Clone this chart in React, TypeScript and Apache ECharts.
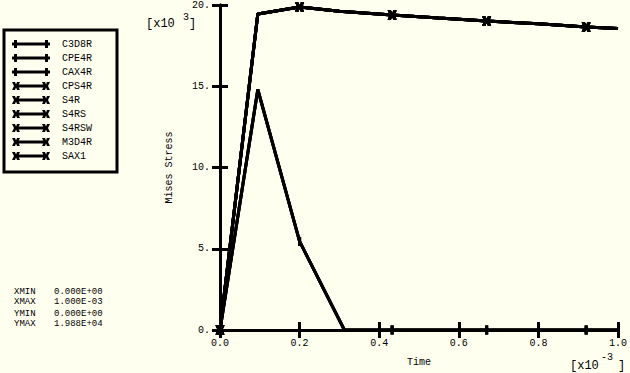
import React, { useEffect, useRef } from "react";
import * as echarts from "echarts";

// Curve set A (C3D8R, CPE4R, CAX4R) — time [x1e-3], Mises stress [x1e3]
const timeA = [0, 0.095, 0.2, 0.3125, 0.4325, 0.67, 0.92, 1.0];
const stressA = [0, 14.8, 5.45, 0, 0, 0, 0, 0];
const markA = [true, false, true, false, true, true, true, false];

// Curve set B (CPS4R, S4R, S4RS, S4RSW, M3D4R, SAX1)
const timeB = [0, 0.095, 0.2, 0.3, 0.4325, 0.55, 0.67, 0.8, 0.92, 1.0];
const stressB = [0, 19.45, 19.88, 19.62, 19.38, 19.2, 19.02, 18.84, 18.65, 18.56];
const markB = [true, false, true, false, true, false, true, false, true, false];

const namesA = ["C3D8R", "CPE4R", "CAX4R"];
const namesB = ["CPS4R", "S4R", "S4RS", "S4RSW", "M3D4R", "SAX1"];

const xMin = 0;
const xMax = 1.0;
const xStep = 0.2;
const yMin = 0;
const yMax = 20;
const yStep = 5;

const infoLabels = ["XMIN", "XMAX", "YMIN", "YMAX"];
const infoValues = ["0.000E+00", "1.000E-03", "0.000E+00", "1.988E+04"];
const infoRowsY = [291.5, 302, 313.5, 323.5];

const MONO = '"Liberation Mono", "DejaVu Sans Mono", monospace';
const BG = "#ffffef";

const SYM_PLUS = "rect";
const SYM_X = "path://M0,0H3L4,2.5L5,0H8L6,4L8,8H5L4,5.5L3,8H0L2,4Z";
const ICON_A =
  "path://M0,2.5H2V0H5V2.5H33V0H36V2.5H38V5.5H36V8H33V5.5H5V8H2V5.5H0Z";
const ICON_B =
  "path://M0,0H3L4,2.5L5,0H8L6,4L8,8H5L4,5.5L3,8H0L2,4Z M4,2.5H34V5.5H4Z M30,0H33L34,2.5L35,0H38L36,4L38,8H35L34,5.5L33,8H30L32,4Z";

function buildData(t: number[], v: number[], m: boolean[]) {
  return t.map((x, i) =>
    m[i] ? { value: [x, v[i]] } : { value: [x, v[i]], symbol: "none" }
  );
}

export default function App() {
  const ref = useRef<HTMLDivElement>(null);
  useEffect(() => {
    if (!ref.current) return;
    const chart = echarts.init(ref.current, undefined, { renderer: "svg" });

    const seriesA = namesA.map((n) => ({
      name: n,
      type: "line",
      data: buildData(timeA, stressA, markA),
      symbol: SYM_PLUS,
      symbolSize: [3, 9],
      showSymbol: true,
      showAllSymbol: true,
      clip: false,
      color: "#000",
      lineStyle: { color: "#000", width: 3 },
      itemStyle: { color: "#000" },
      emphasis: { disabled: true },
      xAxisIndex: 0,
      yAxisIndex: 0,
    }));
    const seriesB = namesB.map((n) => ({
      name: n,
      type: "line",
      data: buildData(timeB, stressB, markB),
      symbol: SYM_X,
      symbolSize: [9, 9],
      showSymbol: true,
      showAllSymbol: true,
      clip: false,
      color: "#000",
      lineStyle: { color: "#000", width: 3 },
      itemStyle: { color: "#000" },
      emphasis: { disabled: true },
      xAxisIndex: 0,
      yAxisIndex: 0,
    }));

    const axisLine = { show: true, lineStyle: { color: "#000", width: 3 } };
    const tick = {
      show: true,
      inside: true,
      length: 8,
      lineStyle: { color: "#000", width: 3 },
    };

    const graphic: any[] = [];
    infoLabels.forEach((l, i) => {
      graphic.push({
        type: "text",
        x: 14,
        y: infoRowsY[i],
        style: { text: l, font: `9px ${MONO}`, lineHeight: 9, fill: "#000", verticalAlign: "middle" },
      });
      graphic.push({
        type: "text",
        x: 54,
        y: infoRowsY[i],
        style: { text: infoValues[i], font: `9px ${MONO}`, lineHeight: 9, fill: "#000", verticalAlign: "middle" },
      });
    });
    const txt = (text: string, x: number, y: number, size: number) => ({
      type: "text",
      x,
      y,
      style: { text, font: `${size}px ${MONO}`, fill: "#000", verticalAlign: "middle" },
    });
    graphic.push(txt("[x10", 146, 24, 12));
    graphic.push(txt("3", 183, 17, 10));
    graphic.push(txt("]", 189, 24, 12));
    graphic.push(txt("[x10", 570, 366, 12));
    graphic.push(txt("-3", 601, 357, 10));
    graphic.push(txt("]", 618, 366, 12));

    chart.setOption({
      animation: false,
      backgroundColor: BG,
      grid: { left: 220, right: 10, top: 5, bottom: 43, show: false },
      legend: {
        orient: "vertical",
        left: 4,
        top: 30,
        padding: [9, 25, 11, 8],
        borderColor: "#000",
        borderWidth: 3,
        itemWidth: 38,
        itemHeight: 8,
        itemGap: 4,
        selectedMode: false,
        symbolKeepAspect: false,
        textStyle: {
          color: "#000",
          fontFamily: MONO,
          fontSize: 10,
          lineHeight: 10,
          padding: [0, 0, 0, 7],
        },
        data: [
          ...namesA.map((n) => ({ name: n, icon: ICON_A })),
          ...namesB.map((n) => ({ name: n, icon: ICON_B })),
        ],
      },
      xAxis: [
        {
          type: "value",
          min: xMin,
          max: xMax,
          interval: xStep,
          position: "bottom",
          axisLine,
          axisTick: tick,
          splitLine: { show: false },
          axisLabel: {
            color: "#000",
            fontFamily: MONO,
            fontSize: 10,
            margin: 8,
            formatter: (v: number) => v.toFixed(1),
          },
          name: "Time",
          nameLocation: "middle",
          nameGap: 27,
          nameTextStyle: { color: "#000", fontFamily: MONO, fontSize: 10 },
        },
        {
          type: "value",
          min: xMin,
          max: xMax,
          interval: xStep,
          position: "top",
          axisLine,
          axisTick: tick,
          splitLine: { show: false },
          axisLabel: { show: false },
        },
      ],
      yAxis: [
        {
          type: "value",
          min: yMin,
          max: yMax,
          interval: yStep,
          position: "left",
          axisLine,
          axisTick: tick,
          splitLine: { show: false },
          axisLabel: {
            color: "#000",
            fontFamily: MONO,
            fontSize: 10,
            margin: 10,
            formatter: (v: number) => `${v}.`,
          },
          name: "Mises Stress",
          nameLocation: "middle",
          nameGap: 46,
          nameRotate: 90,
          nameTextStyle: { color: "#000", fontFamily: MONO, fontSize: 10 },
        },
        {
          type: "value",
          min: yMin,
          max: yMax,
          interval: yStep,
          position: "right",
          axisLine,
          axisTick: tick,
          splitLine: { show: false },
          axisLabel: { show: false },
        },
      ],
      graphic,
      series: [...seriesA, ...seriesB],
    });
    return () => chart.dispose();
  }, []);

  return (
    <div
      ref={ref}
      style={{ position: "absolute", left: 0, top: 0, width: 630, height: 373 }}
    />
  );
}
